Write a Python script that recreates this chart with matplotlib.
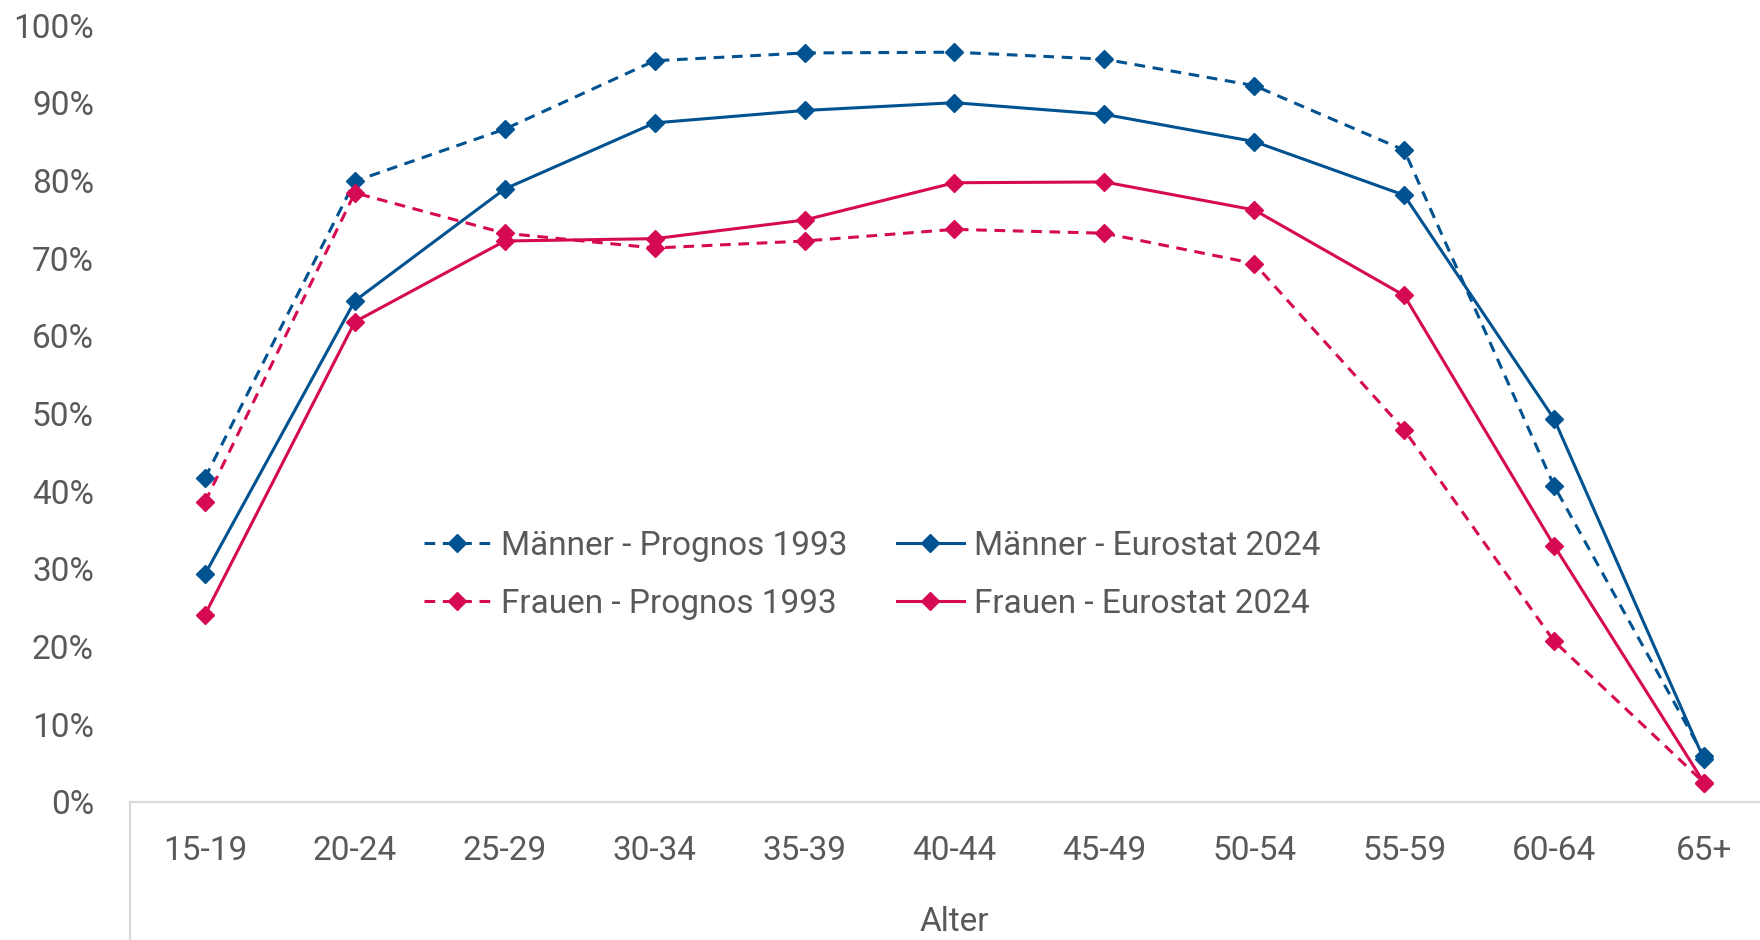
import matplotlib
matplotlib.use("Agg")
import matplotlib.pyplot as plt
from matplotlib.lines import Line2D

# ---- data ----
categories = ["15-19", "20-24", "25-29", "30-34", "35-39", "40-44",
              "45-49", "50-54", "55-59", "60-64", "65+"]
maenner_prognos = [41.7, 79.9, 86.6, 95.4, 96.4, 96.5, 95.6, 92.2, 83.9, 40.7, 5.9]
maenner_eurostat = [29.3, 64.5, 78.9, 87.4, 89.0, 90.0, 88.5, 85.0, 78.1, 49.3, 5.5]
frauen_prognos = [38.6, 78.4, 73.2, 71.3, 72.2, 73.7, 73.2, 69.3, 47.9, 20.7, 2.5]
frauen_eurostat = [24.1, 61.8, 72.2, 72.5, 74.9, 79.7, 79.8, 76.2, 65.2, 33.0, 2.5]
series_labels = ["Männer - Prognos 1993", "Männer - Eurostat 2024",
                 "Frauen - Prognos 1993", "Frauen - Eurostat 2024"]
y_ticks = [0, 10, 20, 30, 40, 50, 60, 70, 80, 90, 100]
x_title = "Alter"

# ---- style ----
plt.rcParams['font.family'] = ['Roboto', 'DejaVu Sans']

BLUE = "#005290"
RED = "#D60A52"
GREY_TXT = "#595959"
GREY_LINE = "#D9D9D9"
FS = 24

fig = plt.figure(figsize=(17.6, 9.4), dpi=100)
W, H = 1760, 940
ax = fig.add_axes([130 / W, (H - 802) / H, (W - 130) / W, (802 - 25) / H])

x = list(range(len(categories)))
lw = 2.2
ms = 9.5
dash = (3.5, 2.5)

l1, = ax.plot(x, maenner_prognos, color=BLUE, lw=lw, dashes=dash, marker="D",
              ms=ms, mec=BLUE, mfc=BLUE, label=series_labels[0], clip_on=False)
l2, = ax.plot(x, maenner_eurostat, color=BLUE, lw=lw, marker="D",
              ms=ms, mec=BLUE, mfc=BLUE, label=series_labels[1], clip_on=False)
l3, = ax.plot(x, frauen_prognos, color=RED, lw=lw, dashes=dash, marker="D",
              ms=ms, mec=RED, mfc=RED, label=series_labels[2], clip_on=False)
l4, = ax.plot(x, frauen_eurostat, color=RED, lw=lw, marker="D",
              ms=ms, mec=RED, mfc=RED, label=series_labels[3], clip_on=False)

ax.set_xlim(-0.5, -0.5 + 1630 / 149.9)
ax.set_ylim(0, 100)
ax.set_yticks(y_ticks)
ax.set_yticklabels([f"{v}%" for v in y_ticks])
ax.set_xticks(x)
ax.set_xticklabels(categories)
ax.tick_params(axis="both", length=0, labelsize=FS, labelcolor=GREY_TXT)
ax.tick_params(axis="y", pad=26)
ax.tick_params(axis="x", pad=24)

for s in ["top", "right", "left"]:
    ax.spines[s].set_visible(False)
ax.spines["bottom"].set_color(GREY_LINE)
ax.spines["bottom"].set_linewidth(1.6)

# vertical category-group line at the left edge below the axis
fig.add_artist(Line2D([130 / W, 130 / W], [0, (H - 802) / H],
                      transform=fig.transFigure, color=GREY_LINE, lw=1.6))

ax.text(5, -0.155, x_title, transform=ax.get_xaxis_transform(),
        ha="center", va="center", fontsize=FS, color=GREY_TXT)

leg = ax.legend(handles=[l1, l3, l2, l4], ncol=2, frameon=False,
                loc="upper left", bbox_to_anchor=(424 / W, (H - 530) / H),
                bbox_transform=fig.transFigure,
                prop={"size": FS},
                handlelength=2.0, handletextpad=0.3, columnspacing=1.5,
                labelspacing=0.78, borderpad=0, borderaxespad=0)
for t in leg.get_texts():
    t.set_color(GREY_TXT)

fig.savefig("out.png", dpi=100)
